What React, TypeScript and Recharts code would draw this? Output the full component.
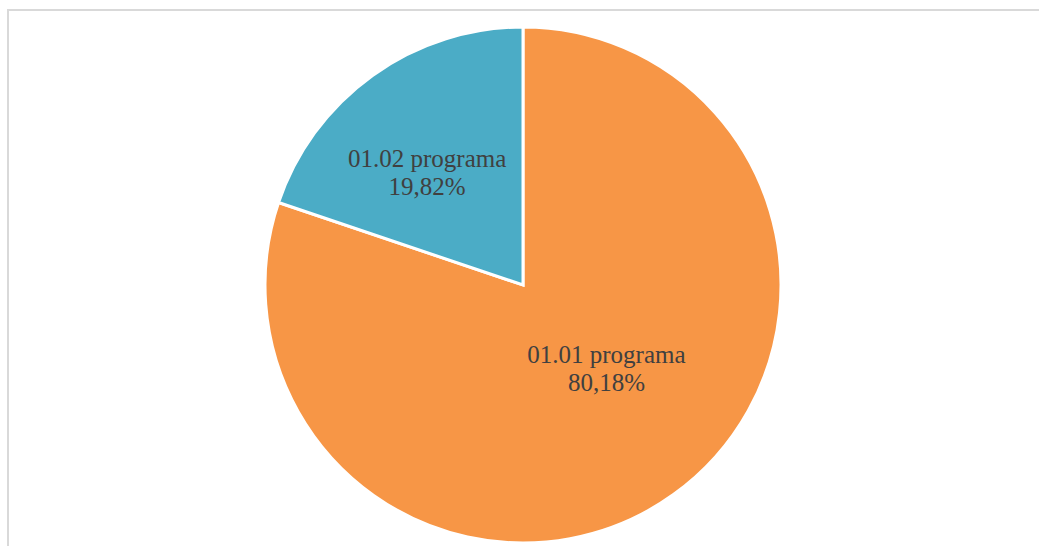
import { PieChart, Pie, Cell } from 'recharts'

const names = ['01.01 programa', '01.02 programa']
const shares = [80.18, 19.82]
const colors = ['#F79646', '#4BACC6']

const data = names.map((name, i) => ({ name, value: shares[i] }))

const RAD = Math.PI / 180

function renderLabel(props: any) {
  const { cx, cy, midAngle, outerRadius, index, name, value } = props
  const frac = index === 0 ? 0.46 : 0.57
  const ang = midAngle + (index === 0 ? 9 : 5)
  const r = outerRadius * frac
  const x = cx + r * Math.cos(-ang * RAD)
  const y = cy + r * Math.sin(-ang * RAD)
  const pct = value.toFixed(2).replace('.', ',') + '%'
  return (
    <text
      x={x}
      y={y}
      textAnchor="middle"
      fill="#404040"
      fontFamily="'Liberation Serif', 'Times New Roman', serif"
      fontSize={25}
    >
      <tspan x={x} dy={-6}>{name}</tspan>
      <tspan x={x} dy={28}>{pct}</tspan>
    </text>
  )
}

export default function App() {
  return (
    <div
      style={{
        position: 'absolute',
        left: 7,
        top: 9,
        width: 1060,
        height: 560,
        border: '2px solid #d9d9d9',
        boxSizing: 'border-box',
        background: '#fff',
      }}
    >
      <div style={{ position: 'absolute', left: -9, top: -11 }}>
        <PieChart width={1039} height={546}>
          <Pie
            data={data}
            dataKey="value"
            nameKey="name"
            cx={518}
            cy={280}
            outerRadius={258}
            startAngle={90}
            endAngle={-270}
            stroke="#ffffff"
            strokeWidth={3}
            label={renderLabel}
            labelLine={false}
            isAnimationActive={false}
          >
            {data.map((d, i) => (
              <Cell key={d.name} fill={colors[i]} />
            ))}
          </Pie>
        </PieChart>
      </div>
    </div>
  )
}
